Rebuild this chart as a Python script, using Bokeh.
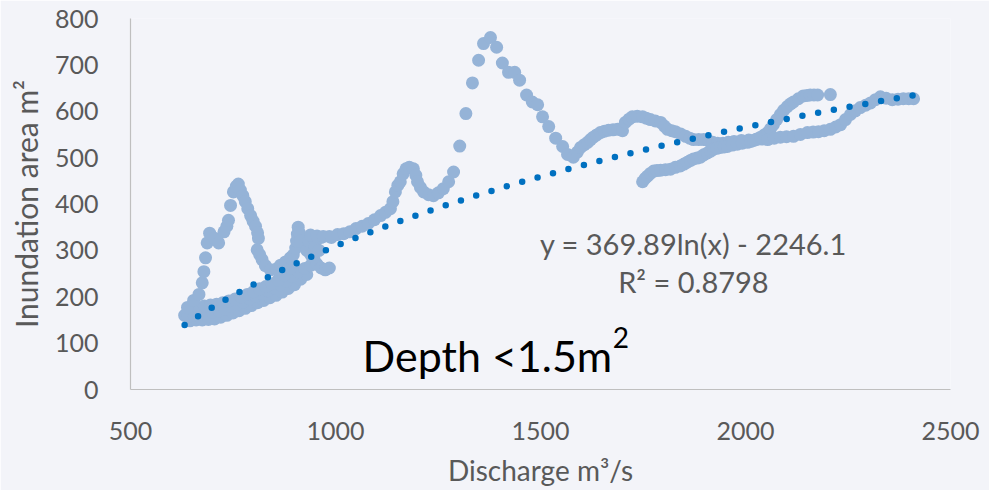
from bokeh.plotting import figure
from bokeh.models import Label, ColumnDataSource, FixedTicker, Range1d
from bokeh.embed import file_html
from bokeh.resources import INLINE
import numpy as np

# ---- observations: discharge (m3/s) vs inundation area, depth < 1.5 m ----
# low-flow band (three overlapping passes)
band_low_q = [645, 660, 675, 690, 705, 720, 735, 750, 765, 780, 795, 810, 825, 840, 855, 870, 885, 900, 915, 930]
band_low_a = [148, 150, 150, 151, 152, 156, 160, 165, 170, 175, 181, 187, 192, 198, 203, 210, 218, 226, 238, 248]
band_mid_q = [632, 640, 655, 670, 685, 700, 715, 730, 745, 760, 775, 790, 805, 820, 835, 850, 865, 880, 895, 910, 925, 940]
band_mid_a = [160, 157, 160, 163, 165, 167, 170, 174, 179, 184, 189, 196, 202, 207, 213, 219, 226, 234, 244, 254, 261, 268]
band_up_q = [650, 665, 680, 695, 710, 725, 740, 755, 770, 785, 800, 815, 830, 845, 860, 875, 890]
band_up_a = [172, 176, 180, 182, 184, 187, 191, 195, 200, 205, 211, 217, 222, 228, 236, 247, 262]

# first flood event loop
loop1_q = [639, 654, 667, 675, 679, 683, 687, 693, 705, 715, 728, 735, 739, 744, 751, 758, 763, 768,
           774, 780, 786, 793, 799, 805, 810, 812, 809, 815, 821, 829, 841, 856, 866, 878, 890]
loop1_a = [177, 192, 205, 230, 254, 284, 316, 337, 326, 316, 340, 352, 365, 397, 426, 438, 443, 430,
           418, 405, 390, 375, 363, 352, 338, 326, 301, 291, 280, 267, 258, 260, 268, 275, 284]

# spike and cluster near 900-1000
spike_q = [897, 903, 905, 907, 909, 912, 915, 930, 935, 940, 945, 948, 950, 955, 960, 965, 975, 985, 965, 985]
spike_a = [290, 305, 320, 335, 350, 338, 320, 300, 320, 290, 328, 280, 310, 270, 300, 262, 258, 262, 328, 330]

# main rising/recession path of the large event
main_q = [939, 955, 970, 990, 1005, 1020, 1035, 1050, 1065, 1080, 1095, 1110, 1122, 1134, 1140, 1146,
          1152, 1158, 1165, 1172, 1180, 1190, 1196, 1200, 1207, 1215, 1227, 1239, 1251, 1263, 1276, 1288,
          1303, 1318, 1334, 1349, 1361, 1378, 1393, 1407, 1422, 1437, 1449, 1466, 1480, 1493, 1505, 1520,
          1537, 1554, 1566, 1580, 1590, 1598, 1607, 1615, 1622, 1629, 1637, 1646, 1656, 1666, 1677, 1688,
          1700, 1707, 1716, 1724, 1736, 1749, 1758, 1768, 1780, 1793, 1802, 1810, 1820, 1829, 1842, 1854,
          1864, 1873, 1886, 1898, 1910, 1920, 1932, 1945, 1958, 1972, 1990, 2008, 2025, 2040]
main_a = [333, 331, 330, 328, 334, 336, 340, 347, 352, 358, 366, 375, 382, 390, 405, 426,
          440, 448, 465, 476, 479, 476, 462, 448, 436, 426, 420, 418, 424, 433, 448, 469,
          525, 595, 661, 710, 746, 759, 738, 704, 684, 684, 667, 635, 620, 614, 588, 567,
          542, 524, 507, 501, 512, 522, 528, 533, 539, 544, 549, 554, 557, 559, 560, 561,
          558, 576, 583, 588, 589, 588, 585, 582, 579, 576, 568, 561, 558, 556, 551, 546,
          542, 539, 539, 539, 536, 533, 531, 531, 533, 535, 537, 538, 539, 540]

# later event: lower limb rising to the upper plateau
late_q = [1749, 1755, 1761, 1768, 1776, 1784, 1793, 1805, 1817, 1829, 1841, 1850, 1858, 1866, 1873,
          1882, 1890, 1898, 1907, 1915, 1922, 1930, 1939, 1948, 1956, 1968, 1980, 1992, 2005, 2013,
          2020, 2028, 2037, 2046, 2054, 2061, 2068, 2076, 2085, 2093, 2102, 2110, 2117, 2129, 2141,
          2150, 2158, 2167, 2176, 2207]
late_a = [448, 455, 460, 466, 471, 472, 473, 474, 475, 479, 482, 486, 490, 494, 497,
          499, 501, 506, 510, 514, 518, 520, 522, 523, 524, 527, 529, 531, 533, 535,
          537, 540, 544, 549, 554, 562, 571, 582, 593, 602, 610, 616, 620, 627, 633,
          634, 635, 635, 635, 636]

# high-flow tail
tail_q = [2054, 2070, 2085, 2100, 2117, 2134, 2151, 2165, 2178, 2192, 2207, 2220, 2232, 2244, 2256,
          2268, 2280, 2293, 2305, 2317, 2329, 2343, 2358, 2372, 2385, 2398, 2410]
tail_a = [539, 542, 544, 545, 546, 550, 554, 555, 556, 558, 561, 566, 571, 582, 593,
          601, 608, 613, 618, 625, 631, 628, 625, 626, 627, 627, 627]

x_ticks = [500, 1000, 1500, 2000, 2500]
y_ticks = [0, 100, 200, 300, 400, 500, 600, 700, 800]

# logarithmic fit reported for the series
fit_a, fit_b = 369.89, -2246.1
equation_text = "y = 369.89ln(x) - 2246.1"
r2_text = "R\u00b2 = 0.8798"

discharge = band_low_q + band_mid_q + band_up_q + loop1_q + spike_q + main_q + late_q + tail_q
area = band_low_a + band_mid_a + band_up_a + loop1_a + spike_a + main_a + late_a + tail_a

BG = "#F3F4F9"
GREY = "#595959"
FONT = "Lato"

p = figure(width=989, height=490, output_backend="svg", toolbar_location=None,
           x_range=Range1d(500, 2500), y_range=Range1d(0, 800),
           background_fill_color=BG, border_fill_color=BG,
           min_border_left=130, min_border_right=39, min_border_top=18, min_border_bottom=101)
p.outline_line_color = None
p.grid.grid_line_color = None

src = ColumnDataSource(dict(q=discharge, a=area))
p.scatter("q", "a", source=src, size=13, fill_color="#95B3D7", line_color=None)

q_fit = np.linspace(min(discharge), max(discharge), 400)
a_fit = fit_a * np.log(q_fit) + fit_b
p.line(q_fit, a_fit, line_color="#0070C0", line_width=6.5, line_dash="0 16", line_cap="round")

for ax in (p.xaxis[0], p.yaxis[0]):
    ax.axis_line_color = "#BFBFBF"
    ax.axis_line_width = 1.2
    ax.major_tick_line_color = None
    ax.minor_tick_line_color = None
    ax.major_label_text_font = FONT
    ax.major_label_text_font_size = "25px"
    ax.major_label_text_color = GREY
    ax.axis_label_text_font = FONT
    ax.axis_label_text_color = GREY
    ax.axis_label_text_font_style = "normal"

p.xaxis.axis_label_text_font_size = "28px"
p.yaxis.axis_label_text_font_size = "30px"
p.xaxis.ticker = FixedTicker(ticks=x_ticks)
p.yaxis.ticker = FixedTicker(ticks=y_ticks)
p.xaxis.major_label_standoff = 26
p.yaxis.major_label_standoff = 26
p.xaxis.axis_label = "Discharge m\u00b3/s"
p.yaxis.axis_label = "Inundation area m\u00b2"
p.xaxis.axis_label_standoff = 10
p.yaxis.axis_label_standoff = 8

p.add_layout(Label(x=1873, y=315, text=equation_text, text_align="center", text_baseline="middle",
                   text_font=FONT, text_font_size="29px", text_color=GREY))
p.add_layout(Label(x=1873, y=233, text=r2_text, text_align="center", text_baseline="middle",
                   text_font=FONT, text_font_size="29px", text_color=GREY))
# panel title with a raised exponent
p.add_layout(Label(x=1066, y=73, text="Depth <1.5m", text_align="left", text_baseline="middle",
                   text_font=FONT, text_font_size="43px", text_color="black"))
p.add_layout(Label(x=1676, y=113, text="2", text_align="left", text_baseline="middle",
                   text_font=FONT, text_font_size="28px", text_color="black"))

open("out.html", "w").write(file_html(p, INLINE))
